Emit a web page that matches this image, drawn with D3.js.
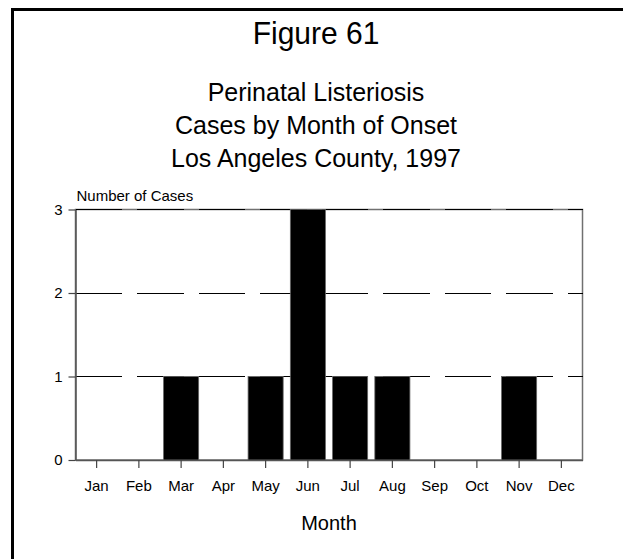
<!DOCTYPE html>
<html>
<head>
<meta charset="utf-8">
<script src="https://cdn.jsdelivr.net/npm/d3@7"></script>
<style>
  body { margin: 0; background: #fff; }
  text { font-family: "Liberation Sans", Arial, Helvetica, sans-serif; fill: #000; }
</style>
</head>
<body>
<svg id="chart"></svg>
<script>
const months = ["Jan", "Feb", "Mar", "Apr", "May", "Jun", "Jul", "Aug", "Sep", "Oct", "Nov", "Dec"]
const cases = [0, 0, 1, 0, 1, 3, 1, 1, 0, 0, 1, 0]
const yTicks = [0, 1, 2, 3]
const titleLines = ["Perinatal Listeriosis", "Cases by Month of Onset", "Los Angeles County, 1997"]

const width = 623
const height = 559
const margins = {left: 75.5, right: 40.5, top: 209.5, bottom: 99}

const svg = d3.select("#chart").attr("width", width).attr("height", height)

// outer frame (right and bottom sides fall outside the picture)
svg.append("rect")
    .attr("x", 12.5).attr("y", 9.5)
    .attr("width", 640).attr("height", 600)
    .attr("fill", "none").attr("stroke", "#000").attr("stroke-width", 3)

// titles, slightly stretched vertically like the original typeface
svg.append("text").text("Figure 61")
    .attr("transform", "translate(316, 44) scale(1, 1.06)")
    .attr("text-anchor", "middle").attr("font-size", 30)

svg.selectAll(".title").data(titleLines).join("text")
    .attr("class", "title")
    .attr("transform", (d, i) => `translate(316, ${101 + i * 33}) scale(1, 1.06)`)
    .attr("text-anchor", "middle").attr("font-size", 25)
    .text(d => d)

const scaleX = d3.scaleBand().domain(months)
    .range([margins.left, width - margins.right])
    .paddingInner(0.17).paddingOuter(0.085)
const scaleY = d3.scaleLinear().domain([0, 3])
    .range([height - margins.bottom, margins.top])

// plot frame
svg.append("rect")
    .attr("x", margins.left).attr("y", margins.top)
    .attr("width", width - margins.right - margins.left)
    .attr("height", height - margins.bottom - margins.top)
    .attr("fill", "none").attr("stroke", "#707070").attr("stroke-width", 1.5)

// dashed grid
svg.append("g").selectAll("line").data(yTicks).join("line")
    .attr("x1", margins.left).attr("x2", width - margins.right)
    .attr("y1", d => scaleY(d)).attr("y2", d => scaleY(d))
    .attr("stroke", "#000").attr("stroke-width", 1)
    .attr("stroke-dasharray", "46.5 15")
    .attr("shape-rendering", "crispEdges")

svg.append("g").selectAll("rect").data(months).join("rect")
    .attr("x", d => scaleX(d))
    .attr("width", scaleX.bandwidth())
    .attr("y", (d, i) => scaleY(cases[i]))
    .attr("height", (d, i) => scaleY(0) - scaleY(cases[i]))
    .attr("fill", "#000").attr("stroke", "#666").attr("stroke-width", 0.8)

const yAxis = svg.append("g")
    .attr("transform", `translate(${margins.left}, 0)`)
    .call(d3.axisLeft(scaleY).tickValues(yTicks).tickFormat(d3.format("d")).tickSize(7).tickSizeOuter(0).tickPadding(6))
const xAxis = svg.append("g")
    .attr("transform", `translate(0, ${height - margins.bottom})`)
    .call(d3.axisBottom(scaleX).tickSize(8).tickSizeOuter(0).tickPadding(12))

for (const ax of [yAxis, xAxis]) {
    ax.select(".domain").attr("stroke", "#555").attr("stroke-width", 1.5)
    ax.selectAll(".tick line").attr("stroke", "#444").attr("stroke-width", 1.2)
    ax.selectAll("text").attr("font-family", "Liberation Sans, Arial, sans-serif").attr("fill", "#000")
}
yAxis.selectAll("text").attr("font-size", 15)
xAxis.selectAll("text").attr("font-size", 15)

svg.append("text").text("Number of Cases")
    .attr("x", 76.5).attr("y", 200.5).attr("font-size", 15)

svg.append("text").text("Month")
    .attr("x", (margins.left + width - margins.right) / 2).attr("y", 529.5)
    .attr("text-anchor", "middle").attr("font-size", 20)
</script>
</body>
</html>
